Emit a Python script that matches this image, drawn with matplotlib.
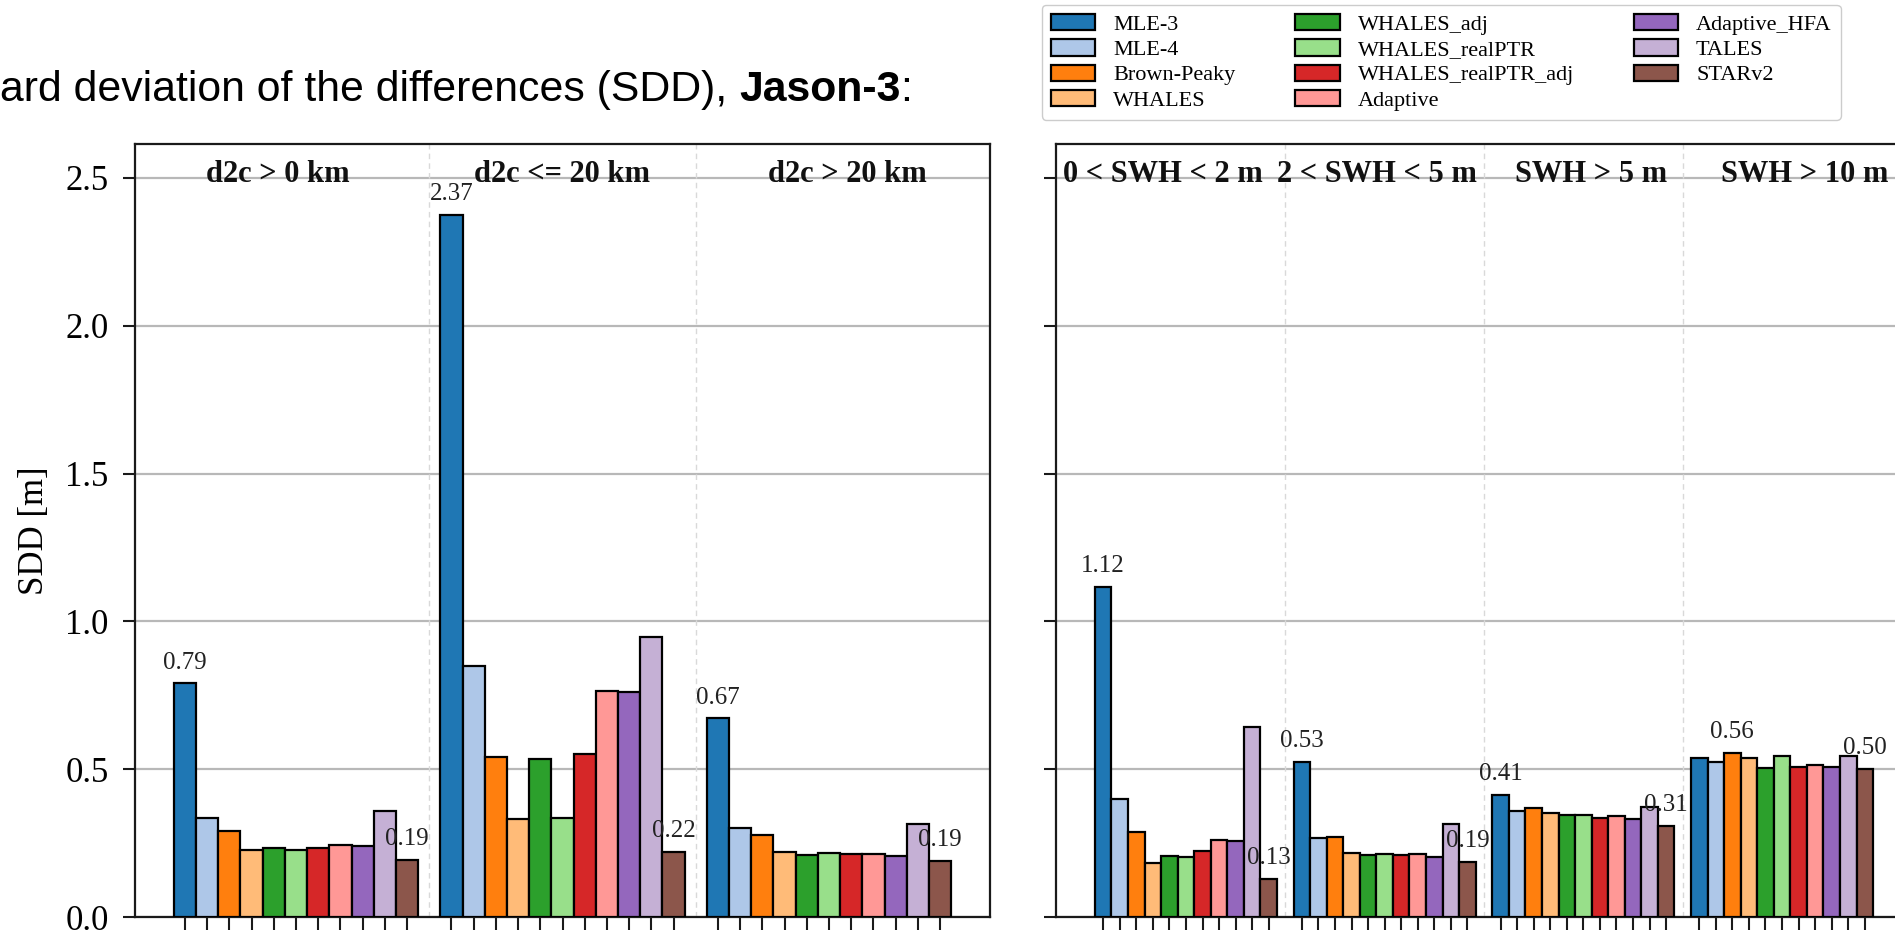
import matplotlib
matplotlib.use("Agg")
import matplotlib.pyplot as plt

# Retrackers compared and their colours
methods = ["MLE-3", "MLE-4", "Brown-Peaky", "WHALES", "WHALES_adj", "WHALES_realPTR",
           "WHALES_realPTR_adj", "Adaptive", "Adaptive_HFA", "TALES", "STARv2"]
colors = ["#1f77b4", "#aec7e8", "#ff7f0e", "#ffbb78", "#2ca02c", "#98df8a",
          "#d62728", "#ff9896", "#9467bd", "#c5b0d5", "#8c564b"]

# Sub-sets: distance to coast and significant wave height classes
d2c_groups = ["d2c > 0 km", "d2c <= 20 km", "d2c > 20 km"]
swh_groups = ["0 < SWH < 2 m", "2 < SWH < 5 m", "SWH > 5 m", "SWH > 10 m"]

# SDD [m] for each retracker (order as in `methods`)
sdd_d2c_gt0 = [0.790, 0.335, 0.292, 0.226, 0.234, 0.228, 0.234, 0.243, 0.239, 0.358, 0.192]
sdd_d2c_le20 = [2.374, 0.849, 0.541, 0.332, 0.533, 0.335, 0.550, 0.766, 0.762, 0.948, 0.219]
sdd_d2c_gt20 = [0.672, 0.302, 0.276, 0.219, 0.210, 0.217, 0.212, 0.212, 0.205, 0.315, 0.189]
sdd_swh_0_2 = [1.117, 0.398, 0.286, 0.184, 0.207, 0.204, 0.224, 0.260, 0.257, 0.644, 0.129]
sdd_swh_2_5 = [0.526, 0.268, 0.272, 0.215, 0.210, 0.214, 0.211, 0.213, 0.204, 0.314, 0.186]
sdd_swh_gt5 = [0.413, 0.360, 0.368, 0.353, 0.345, 0.346, 0.334, 0.342, 0.330, 0.373, 0.309]
sdd_swh_gt10 = [0.539, 0.525, 0.556, 0.537, 0.505, 0.543, 0.508, 0.514, 0.506, 0.545, 0.501]

left_sets = [sdd_d2c_gt0, sdd_d2c_le20, sdd_d2c_gt20]
right_sets = [sdd_swh_0_2, sdd_swh_2_5, sdd_swh_gt5, sdd_swh_gt10]

SERIF = "Liberation Serif"
SANS = "Liberation Sans"
plt.rcParams["font.family"] = [SERIF, "DejaVu Serif"]

W, H, DPI = 1895, 934, 100
fig = plt.figure(figsize=(W / DPI, H / DPI), dpi=DPI)
fig.patch.set_facecolor("white")

ax_l = fig.add_axes([135 / W, 17 / H, 855 / W, 773 / H])
ax_r = fig.add_axes([1056 / W, 17 / H, 856 / W, 773 / H], sharey=ax_l)

n_m = len(methods)
step = n_m + 1  # one empty slot between groups


def draw_panel(ax, sets, names):
    n_g = len(sets)
    for i, (m, c) in enumerate(zip(methods, colors)):
        xs = [g * step + i for g in range(n_g)]
        vals = [s[i] for s in sets]
        ax.bar(xs, vals, width=1.0, color=c, edgecolor="black", linewidth=1.6,
               label=m, zorder=3)
    # value labels on the largest and smallest bar of every group
    for g, s in enumerate(sets):
        for idx in (s.index(max(s)), s.index(min(s))):
            ax.text(g * step + idx, s[idx] + 0.05, f"{s[idx]:.2f}", ha="center",
                    va="baseline", fontsize=18, color="#222222", zorder=5)
    # group separators
    for g in range(1, n_g):
        ax.axvline(g * step - 1, color="#d9d9d9", ls=(0, (4, 3)), lw=1.0, zorder=1)
    # group headers
    for g, name in enumerate(names):
        ax.text((2 * g + 1) / (2 * n_g), 0.951, name, transform=ax.transAxes,
                ha="center", va="baseline", fontsize=22, fontweight="bold",
                color="#111111", zorder=6)
    ax.set_xticks([g * step + i for g in range(n_g) for i in range(n_m)])
    ax.set_xticklabels([])
    ax.margins(x=0.05)
    ax.set_axisbelow(True)
    ax.yaxis.grid(True, color="#b8b8b8", lw=1.6, zorder=0)
    for sp in ax.spines.values():
        sp.set_linewidth(1.6)
        sp.set_color("#1a1a1a")
    ax.tick_params(axis="both", direction="out", length=9, width=1.5,
                   color="#1a1a1a", labelsize=25, pad=10)


draw_panel(ax_l, left_sets, d2c_groups)
draw_panel(ax_r, right_sets, swh_groups)

ax_l.set_ylim(0, 2.615)
ax_l.set_yticks([0.0, 0.5, 1.0, 1.5, 2.0, 2.5])
ax_l.set_yticklabels([f"{t:.1f}" for t in [0.0, 0.5, 1.0, 1.5, 2.0, 2.5]])
ax_r.tick_params(axis="y", labelleft=False)
ax_l.set_ylabel("SDD [m]", fontsize=25)
ax_l.yaxis.set_label_coords(-0.098, 0.5)

# legend across the top right
handles, labels = ax_l.get_legend_handles_labels()
leg = fig.legend(handles, labels, loc="upper left",
                 bbox_to_anchor=(1042 / W, (H - 5) / H), ncol=3,
                 prop={"family": SERIF, "size": 16}, borderaxespad=0,
                 handlelength=2.0, handleheight=0.75, handletextpad=0.8,
                 columnspacing=2.7, labelspacing=0.2, borderpad=0.4,
                 fancybox=True, edgecolor="#cccccc", framealpha=1.0)

# heading line: regular text, bold satellite name, colon
fig.canvas.draw()
renderer = fig.canvas.get_renderer()

head_reg = "Standard deviation of the differences (SDD),"
head_sat = "Jason-3"
x_start, x_end = 0, 909   # pixel span from "ard" to the colon
ty = (H - 90) / H


def text_width(s, fs, weight="normal"):
    t = fig.text(0, 0, s, fontsize=fs, family=SANS, fontweight=weight)
    w = t.get_window_extent(renderer).width
    t.remove()
    return w


def head_widths(fs):
    w_cut = text_width(head_reg, fs) - text_width(head_reg[5:], fs)
    w_tail = text_width(head_reg[5:], fs)
    w_space = text_width("a a", fs) - text_width("aa", fs)
    w_sat = text_width(head_sat, fs, "bold")
    w_colon = text_width(":", fs)
    return w_cut, w_tail, w_space, w_sat, w_colon


base = 20.0
w = head_widths(base)
title_fs = base * (x_end - x_start) / (w[1] + w[2] + w[3] + w[4])
w_cut, w_tail, w_space, w_sat, w_colon = head_widths(title_fs)

x_reg = x_start - w_cut
x_sat = x_start + w_tail + w_space
x_colon = x_sat + w_sat
fig.text(x_reg / W, ty, head_reg, fontsize=title_fs, family=SANS, ha="left", va="center")
fig.text(x_sat / W, ty, head_sat, fontsize=title_fs, family=SANS,
         fontweight="bold", ha="left", va="center")
fig.text(x_colon / W, ty, ":", fontsize=title_fs, family=SANS, ha="left", va="center")

fig.savefig("out.png", dpi=DPI, facecolor="white")
